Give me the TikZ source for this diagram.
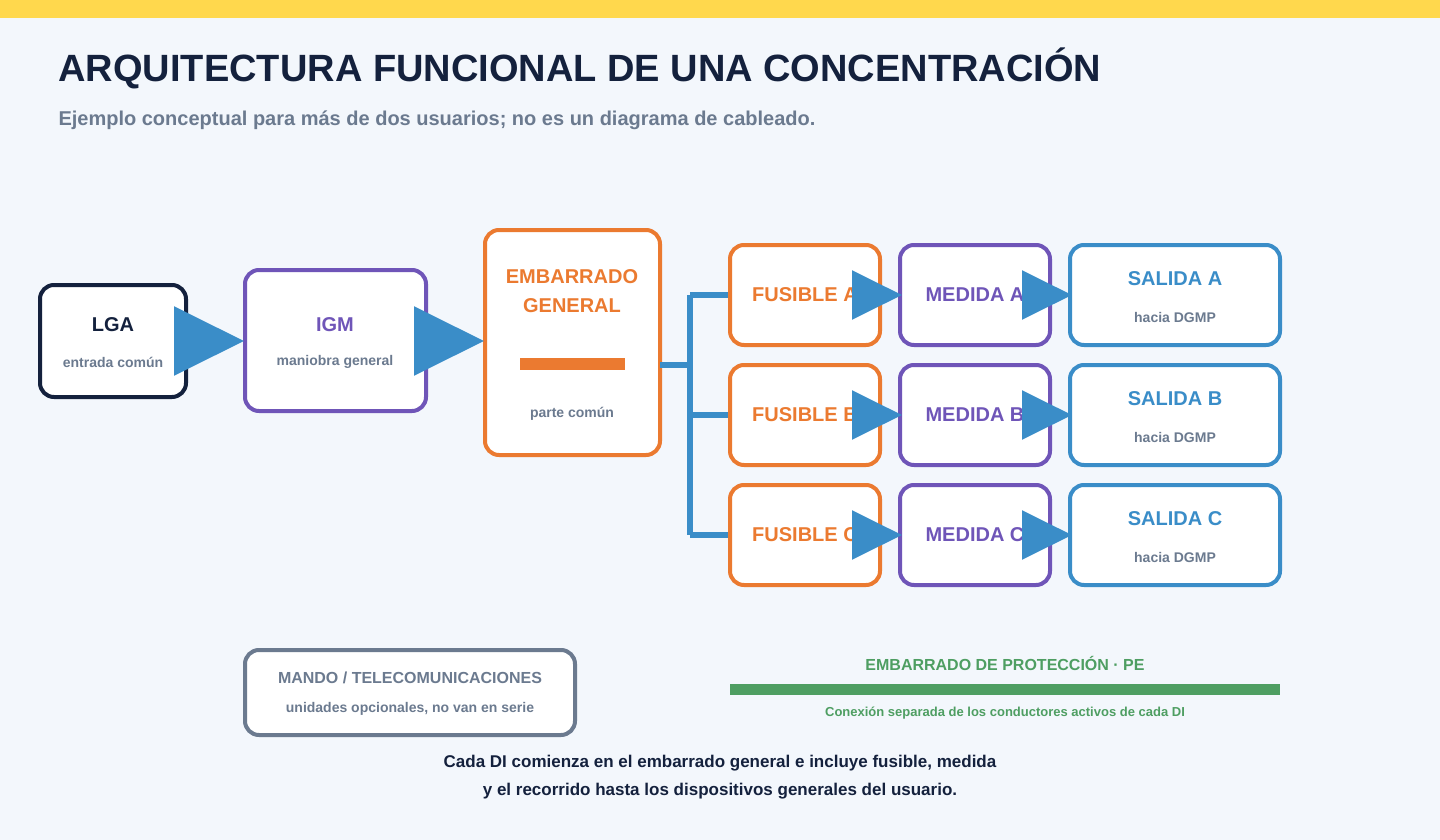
\documentclass[tikz,border=0pt]{standalone}
\usepackage{fontspec}
\setmainfont{Liberation Sans}
\usetikzlibrary{arrows.meta}
\definecolor{bg}{HTML}{F3F7FC}
\definecolor{yel}{HTML}{FFD84D}
\definecolor{dark}{HTML}{14213D}
\definecolor{gr}{HTML}{6B7A8F}
\definecolor{pur}{HTML}{6F55B8}
\definecolor{ora}{HTML}{EB7A30}
\definecolor{blu}{HTML}{3A8DC8}
\definecolor{grn}{HTML}{4E9E62}
\begin{document}
\begin{tikzpicture}[x=1pt,y=-1pt,
 box/.style={draw=#1,line width=4pt,rounded corners=14pt,fill=white,inner sep=0pt},
 arr/.style={blu,line width=6pt,-{Triangle[length=70pt,width=68pt]}},
 sarr/.style={blu,line width=6pt,-{Triangle[length=50pt,width=48pt]}},
 bus/.style={blu,line width=6pt},
 t/.style={font=\bfseries\fontsize{20}{24}\selectfont,anchor=center},
 s/.style={font=\bfseries\fontsize{14}{17}\selectfont,text=gr,anchor=center}]
\useasboundingbox (0,0) rectangle (1440,840);
\fill[bg] (0,0) rectangle (1440,840);
\fill[yel] (0,0) rectangle (1440,18);
\node[anchor=base west,text=dark,font=\bfseries\fontsize{38}{44}\selectfont] (title) at (55,82) {ARQUITECTURA FUNCIONAL DE UNA CONCENTRACIÓN};
\node[anchor=base west,text=gr,font=\bfseries\fontsize{20}{24}\selectfont] (sub) at (55,125) {Ejemplo conceptual para más de dos usuarios; no es un diagrama de cableado.};
% boxes
\draw[box=dark] (40,285) rectangle (186,397);
\coordinate (lgaE) at (186,341);
\node[t,text=dark] (lgat) at (113,325) {LGA};
\node[s] (lgas) at (113,362) {entrada común};
\draw[box=pur] (245,270) rectangle (426,411);
\coordinate (igmW) at (244,341); \coordinate (igmE) at (426,341);
\node[t,text=pur] (igmt) at (335,325) {IGM};
\node[s] (igms) at (335,362) {maniobra general};
\draw[box=ora] (485,230) rectangle (660,455);
\coordinate (embW) at (484,341); \coordinate (embE) at (660,365);
\node[t,text=ora,align=center,font=\bfseries\fontsize{20}{29}\selectfont] (embt) at (572,291) {EMBARRADO\\GENERAL};
\fill[ora] (520,358) rectangle (625,370);
\node[s] (embs) at (572,414) {parte común};
\draw[bus] (embE) -- (690,365);
\draw[bus] (690,295) -- (690,535);
\foreach \L/\y in {A/295,B/415,C/535}{
 \draw[bus] (690,\y) -- (730,\y);
 \draw[box=ora] (730,\y-50) rectangle (880,\y+50);
 \node[t,text=ora] (f\L) at (805,\y) {FUSIBLE \L};
 \draw[box=pur] (900,\y-50) rectangle (1050,\y+50);
 \node[t,text=pur] (m\L) at (975,\y) {MEDIDA \L};
 \draw[box=blu] (1070,\y-50) rectangle (1280,\y+50);
 \node[t,text=blu] (s\L) at (1175,\y-16) {SALIDA \L};
 \node[s] (h\L) at (1175,\y+22) {hacia DGMP};
 \coordinate (fE\L) at (880,\y); \coordinate (mW\L) at (902,\y);
 \coordinate (mE\L) at (1050,\y); \coordinate (sW\L) at (1072,\y);
 \draw[sarr] (fE\L) -- (mW\L);
 \draw[sarr] (mE\L) -- (sW\L);
}
\draw[arr] (lgaE) -- (igmW);
\draw[arr] (igmE) -- (embW);
% bottom
\draw[box=gr] (245,650) rectangle (575,735);
\node[s,font=\bfseries\fontsize{16}{19}\selectfont] (mt) at (410,678) {MANDO / TELECOMUNICACIONES};
\node[s] (ms) at (410,709) {unidades opcionales, no van en serie};
\node[text=grn,font=\bfseries\fontsize{16}{19}\selectfont] (pet) at (1005,663) {EMBARRADO DE PROTECCIÓN · PE};
\fill[grn] (730,684) rectangle (1280,695);
\node[text=grn,font=\bfseries\fontsize{13}{16}\selectfont] (pes) at (1005,713) {Conexión separada de los conductores activos de cada DI};
\node[text=dark,align=center,font=\bfseries\fontsize{17}{28}\selectfont] (foot) at (720,777) {Cada DI comienza en el embarrado general e incluye fusible, medida\\y el recorrido hasta los dispositivos generales del usuario.};
\end{tikzpicture}
\end{document}
